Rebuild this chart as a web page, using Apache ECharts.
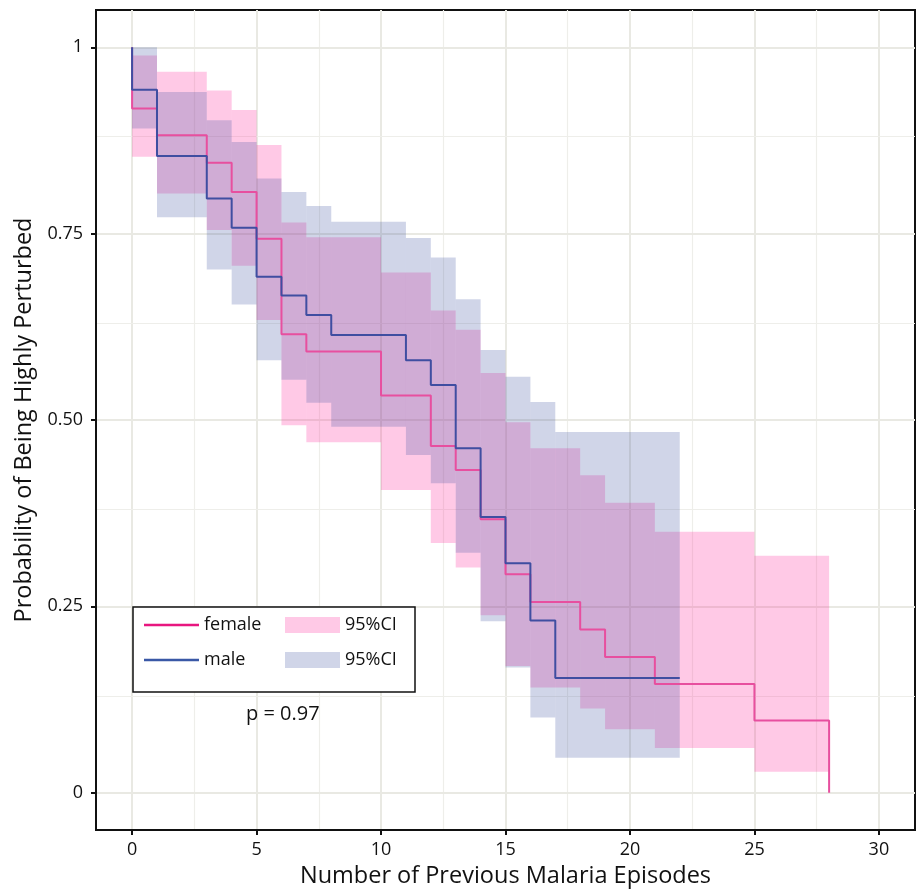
<!DOCTYPE html>
<html>
<head>
<meta charset="utf-8">
<script src="https://cdn.jsdelivr.net/npm/echarts@6/dist/echarts.min.js"></script>
<style>html,body{margin:0;padding:0;background:#fff}#c{width:918px;height:893px}</style>
</head>
<body>
<div id="c"></div>
<script>
// ---- data ----
const femaleTime = [0, 0, 1, 3, 4, 5, 6, 7, 10, 12, 13, 14, 15, 16, 18, 19, 21, 25, 28];
const femaleSurv = [1, 0.918, 0.882, 0.845, 0.806, 0.743, 0.615, 0.592, 0.533, 0.465, 0.433, 0.367, 0.293, 0.256, 0.219, 0.182, 0.146, 0.097, 0];
const maleTime = [0, 0, 1, 3, 4, 5, 6, 7, 8, 11, 12, 13, 14, 15, 16, 17, 22];
const maleSurv = [1, 0.943, 0.854, 0.797, 0.758, 0.692, 0.667, 0.641, 0.614, 0.580, 0.547, 0.462, 0.370, 0.308, 0.231, 0.154, 0.154];

// CI step intervals: breakpoints (n+1) and bounds per interval (n)
const femaleCITime = [0, 1, 3, 4, 5, 6, 7, 10, 12, 13, 14, 15, 16, 18, 19, 21, 25, 28];
const femaleLower = [0.853, 0.804, 0.755, 0.707, 0.634, 0.493, 0.470, 0.406, 0.335, 0.302, 0.238, 0.170, 0.141, 0.113, 0.085, 0.060, 0.028];
const femaleUpper = [0.989, 0.967, 0.942, 0.916, 0.869, 0.765, 0.745, 0.698, 0.647, 0.621, 0.563, 0.497, 0.462, 0.426, 0.389, 0.350, 0.318];
const maleCITime = [0, 1, 3, 4, 5, 6, 7, 8, 11, 12, 13, 14, 15, 16, 17, 22];
const maleLower = [0.891, 0.772, 0.702, 0.655, 0.580, 0.554, 0.523, 0.491, 0.453, 0.415, 0.322, 0.230, 0.168, 0.101, 0.047];
const maleUpper = [1.0, 0.940, 0.902, 0.873, 0.824, 0.806, 0.787, 0.766, 0.744, 0.718, 0.662, 0.594, 0.558, 0.524, 0.484];

const xMajorTicks = [0, 5, 10, 15, 20, 25, 30];
const xMinorTicks = [2.5, 7.5, 12.5, 17.5, 22.5, 27.5];
const yMajorTicks = [0, 0.25, 0.5, 0.75, 1];
const yTickLabels = ['0', '0.25', '0.50', '0.75', '1'];
const yMinorTicks = [0.125, 0.375, 0.625, 0.875];

const pValueText = 'p = 0.97';

// ---- build ----
const FONT = 'Open Sans';
const pinkBand = 'rgba(255,20,147,0.23)';
const blueBand = 'rgba(58,79,160,0.24)';
const pinkLine = '#e74f9f';
const blueLine = '#3f4ea1';

const pairs = (xs, ys) => xs.map((x, i) => [x, ys[i]]);
const intervals = (ts, lo, hi) => lo.map((l, i) => [ts[i], ts[i + 1], l, hi[i]]);

const gridLines = [];
xMajorTicks.forEach(v => gridLines.push({xAxis: v, lineStyle: {width: 2, color: '#e9e9e3'}}));
xMinorTicks.forEach(v => gridLines.push({xAxis: v, lineStyle: {width: 1.2, color: '#eeeeea'}}));
yMajorTicks.forEach(v => gridLines.push({yAxis: v, lineStyle: {width: 2, color: '#e9e9e3'}}));
yMinorTicks.forEach(v => gridLines.push({yAxis: v, lineStyle: {width: 1.2, color: '#eeeeea'}}));

function bandRenderer(color) {
  return function (params, api) {
    const p0 = api.coord([api.value(0), api.value(3)]);
    const p1 = api.coord([api.value(1), api.value(2)]);
    return {
      type: 'rect',
      shape: {x: p0[0], y: p0[1], width: p1[0] - p0[0], height: p1[1] - p0[1]},
      style: {fill: color}
    };
  };
}

const option = {
  animation: false,
  grid: {left: 96, top: 10, width: 819, height: 820, show: true, borderColor: '#111', borderWidth: 2, containLabel: false, z: 0},
  xAxis: {
    type: 'value', min: -1.45, max: 31.45,
    name: 'Number of Previous Malaria Episodes', nameLocation: 'middle', nameGap: 34,
    nameTextStyle: {fontFamily: FONT, fontSize: 23.5, color: '#111'},
    axisLine: {show: true, onZero: false, lineStyle: {color: '#111', width: 2}},
    axisTick: {show: true, length: 5, customValues: xMajorTicks, lineStyle: {color: '#111', width: 2}},
    axisLabel: {customValues: xMajorTicks, margin: 11, fontFamily: FONT, fontSize: 18, color: '#111'},
    splitLine: {show: false}
  },
  yAxis: {
    type: 'value', min: -0.05, max: 1.05,
    name: 'Probability of Being Highly Perturbed', nameLocation: 'middle', nameGap: 52,
    nameTextStyle: {fontFamily: FONT, fontSize: 23.5, color: '#111'},
    axisLine: {show: true, onZero: false, lineStyle: {color: '#111', width: 2}},
    axisTick: {show: true, length: 5, customValues: yMajorTicks, lineStyle: {color: '#111', width: 2}},
    axisLabel: {customValues: yMajorTicks, margin: 13, fontFamily: FONT, fontSize: 18, color: '#111',
      formatter: v => { const i = yMajorTicks.indexOf(v); return i >= 0 ? yTickLabels[i] : ''; }},
    splitLine: {show: false}
  },
  legend: {
    left: 133, top: 607, orient: 'horizontal', width: 270, z: 20,
    itemWidth: 55, itemHeight: 16, itemGap: 15,
    padding: [8, 4, 22, 11],
    backgroundColor: '#fff',
    borderColor: '#111', borderWidth: 1.5, borderRadius: 0,
    selectedMode: false,
    textStyle: {fontFamily: FONT, fontSize: 18, color: '#111', width: 66, lineHeight: 20},
    formatter: n => (n.indexOf('CI') >= 0 ? '95%CI' : n),
    data: [
      {name: 'female', icon: 'path://M0 0H55V2.5H0Z', itemStyle: {color: '#e8167f'}},
      {name: 'female 95%CI', icon: 'rect', itemStyle: {color: pinkBand}},
      {name: 'male', icon: 'path://M0 0H55V2.5H0Z', itemStyle: {color: '#3a58a6'}},
      {name: 'male 95%CI', icon: 'rect', itemStyle: {color: blueBand}}
    ]
  },
  graphic: [{
    type: 'text', left: 246, top: 704, z: 100,
    style: {text: pValueText, font: '20px "' + FONT + '"', fill: '#111'}
  }],
  series: [
    {
      name: 'grid', type: 'line', data: [], z: 0, silent: true,
      markLine: {silent: true, z: 0, symbol: ['none', 'none'], label: {show: false}, animation: false,
        lineStyle: {type: 'solid'}, emphasis: {disabled: true}, data: gridLines}
    },
    {name: 'female 95%CI', type: 'custom', z: 2, silent: true, itemStyle: {color: pinkBand},
      renderItem: bandRenderer(pinkBand), encode: {x: [0, 1], y: [2, 3]},
      data: intervals(femaleCITime, femaleLower, femaleUpper)},
    {name: 'male 95%CI', type: 'custom', z: 2, silent: true, itemStyle: {color: blueBand},
      renderItem: bandRenderer(blueBand), encode: {x: [0, 1], y: [2, 3]},
      data: intervals(maleCITime, maleLower, maleUpper)},
    {name: 'female', type: 'line', step: 'end', symbol: 'none', z: 3, silent: true,
      lineStyle: {color: pinkLine, width: 2}, itemStyle: {color: pinkLine},
      data: pairs(femaleTime, femaleSurv)},
    {name: 'male', type: 'line', step: 'end', symbol: 'none', z: 4, silent: true,
      lineStyle: {color: blueLine, width: 2}, itemStyle: {color: blueLine},
      data: pairs(maleTime, maleSurv)}
  ]
};

const chart = echarts.init(document.getElementById('c'), null, {renderer: 'canvas'});
chart.setOption(option);
</script>
</body>
</html>
